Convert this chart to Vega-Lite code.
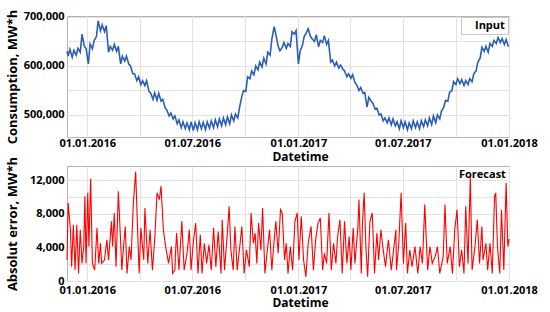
{
 "$schema": "https://vega.github.io/schema/vega-lite/v6.json",
 "padding": {"left": 5, "top": 8, "right": 0, "bottom": 0},
 "background": "white",
 "bounds": "flush",
 "spacing": 29,
 "config": {
  "font": "Open Sans",
  "view": {"stroke": "#b4b4b4", "strokeWidth": 1},
  "axis": {"labelFont": "Open Sans", "labelFontWeight": "bold", "labelFontSize": 11, "labelColor": "#000", "titleFont": "Open Sans", "titleFontWeight": "bold", "titleColor": "#000", "gridColor": "#e2e2e2", "domain": false, "ticks": false, "labelFlush": false, "labelOverlap": false},
  "legend": {"labelFont": "Open Sans", "labelFontWeight": "bold", "labelFontSize": 11, "labelColor": "#000"}
 },
 "datasets": {
  "input": [
   {"d":"2015-11-27","c":630000},{"d":"2015-11-29","c":620000},{"d":"2015-12-02","c":634000},{"d":"2015-12-06","c":618000},{"d":"2015-12-09","c":632000},{"d":"2015-12-13","c":622000},{"d":"2015-12-16","c":636000},{"d":"2015-12-20","c":628000},{"d":"2015-12-23","c":665000},{"d":"2015-12-27","c":640000},{"d":"2015-12-30","c":636000},{"d":"2016-01-03","c":604000},
   {"d":"2016-01-06","c":645000},{"d":"2016-01-10","c":635000},{"d":"2016-01-13","c":652000},{"d":"2016-01-17","c":660000},{"d":"2016-01-20","c":692000},{"d":"2016-01-24","c":672000},{"d":"2016-01-27","c":684000},{"d":"2016-01-31","c":670000},{"d":"2016-02-03","c":682000},{"d":"2016-02-07","c":628000},{"d":"2016-02-10","c":640000},{"d":"2016-02-14","c":632000},{"d":"2016-02-17","c":644000},{"d":"2016-02-21","c":630000},{"d":"2016-02-24","c":640000},{"d":"2016-02-28","c":604000},
   {"d":"2016-03-02","c":620000},{"d":"2016-03-06","c":610000},{"d":"2016-03-09","c":620000},{"d":"2016-03-13","c":604000},{"d":"2016-03-16","c":600000},{"d":"2016-03-20","c":584000},{"d":"2016-03-23","c":584000},{"d":"2016-03-27","c":570000},{"d":"2016-03-30","c":578000},{"d":"2016-04-03","c":562000},{"d":"2016-04-06","c":570000},{"d":"2016-04-10","c":560000},{"d":"2016-04-13","c":570000},{"d":"2016-04-17","c":548000},{"d":"2016-04-20","c":545000},{"d":"2016-04-24","c":532000},{"d":"2016-04-27","c":545000},
   {"d":"2016-05-01","c":530000},{"d":"2016-05-04","c":544000},{"d":"2016-05-08","c":528000},{"d":"2016-05-11","c":532000},{"d":"2016-05-15","c":515000},{"d":"2016-05-18","c":510000},{"d":"2016-05-22","c":498000},{"d":"2016-05-25","c":504000},{"d":"2016-05-29","c":492000},{"d":"2016-06-01","c":498000},{"d":"2016-06-05","c":482000},{"d":"2016-06-08","c":490000},{"d":"2016-06-12","c":474000},{"d":"2016-06-15","c":486000},{"d":"2016-06-19","c":472000},{"d":"2016-06-22","c":484000},{"d":"2016-06-26","c":470000},{"d":"2016-06-29","c":486000},
   {"d":"2016-07-03","c":468000},{"d":"2016-07-06","c":484000},{"d":"2016-07-10","c":470000},{"d":"2016-07-13","c":486000},{"d":"2016-07-17","c":472000},{"d":"2016-07-20","c":485000},{"d":"2016-07-24","c":470000},{"d":"2016-07-27","c":486000},{"d":"2016-07-31","c":473000},{"d":"2016-08-03","c":488000},{"d":"2016-08-07","c":474000},{"d":"2016-08-10","c":490000},{"d":"2016-08-14","c":476000},{"d":"2016-08-17","c":492000},{"d":"2016-08-21","c":478000},{"d":"2016-08-24","c":494000},{"d":"2016-08-28","c":480000},{"d":"2016-08-31","c":496000},
   {"d":"2016-09-04","c":482000},{"d":"2016-09-07","c":500000},{"d":"2016-09-11","c":488000},{"d":"2016-09-14","c":502000},{"d":"2016-09-18","c":494000},{"d":"2016-09-21","c":515000},{"d":"2016-09-25","c":538000},{"d":"2016-09-28","c":550000},{"d":"2016-10-02","c":548000},{"d":"2016-10-05","c":578000},{"d":"2016-10-09","c":574000},{"d":"2016-10-12","c":590000},{"d":"2016-10-16","c":582000},{"d":"2016-10-19","c":600000},{"d":"2016-10-23","c":592000},{"d":"2016-10-26","c":608000},{"d":"2016-10-30","c":598000},
   {"d":"2016-11-02","c":616000},{"d":"2016-11-06","c":604000},{"d":"2016-11-09","c":628000},{"d":"2016-11-13","c":622000},{"d":"2016-11-16","c":655000},{"d":"2016-11-20","c":680000},{"d":"2016-11-23","c":664000},{"d":"2016-11-27","c":640000},{"d":"2016-11-30","c":631000},{"d":"2016-12-04","c":638000},{"d":"2016-12-07","c":648000},{"d":"2016-12-11","c":636000},{"d":"2016-12-14","c":646000},{"d":"2016-12-18","c":640000},{"d":"2016-12-21","c":670000},{"d":"2016-12-25","c":665000},{"d":"2016-12-28","c":672000},{"d":"2017-01-01","c":604000},
   {"d":"2017-01-04","c":630000},{"d":"2017-01-08","c":642000},{"d":"2017-01-11","c":660000},{"d":"2017-01-15","c":668000},{"d":"2017-01-18","c":676000},{"d":"2017-01-22","c":660000},{"d":"2017-01-25","c":655000},{"d":"2017-01-29","c":650000},{"d":"2017-02-01","c":664000},{"d":"2017-02-05","c":639000},{"d":"2017-02-08","c":652000},{"d":"2017-02-12","c":648000},{"d":"2017-02-15","c":662000},{"d":"2017-02-19","c":644000},{"d":"2017-02-22","c":652000},{"d":"2017-02-26","c":608000},
   {"d":"2017-03-01","c":612000},{"d":"2017-03-05","c":600000},{"d":"2017-03-08","c":608000},{"d":"2017-03-12","c":596000},{"d":"2017-03-15","c":602000},{"d":"2017-03-19","c":594000},{"d":"2017-03-22","c":590000},{"d":"2017-03-26","c":578000},{"d":"2017-03-29","c":584000},{"d":"2017-04-02","c":575000},{"d":"2017-04-05","c":582000},{"d":"2017-04-09","c":566000},{"d":"2017-04-12","c":562000},{"d":"2017-04-16","c":550000},{"d":"2017-04-19","c":556000},{"d":"2017-04-23","c":544000},{"d":"2017-04-26","c":546000},{"d":"2017-04-30","c":516000},
   {"d":"2017-05-03","c":536000},{"d":"2017-05-07","c":528000},{"d":"2017-05-10","c":524000},{"d":"2017-05-14","c":512000},{"d":"2017-05-17","c":514000},{"d":"2017-05-21","c":500000},{"d":"2017-05-24","c":502000},{"d":"2017-05-28","c":488000},{"d":"2017-05-31","c":494000},{"d":"2017-06-04","c":484000},{"d":"2017-06-07","c":494000},{"d":"2017-06-11","c":480000},{"d":"2017-06-14","c":492000},{"d":"2017-06-18","c":478000},{"d":"2017-06-21","c":486000},{"d":"2017-06-25","c":472000},{"d":"2017-06-28","c":488000},
   {"d":"2017-07-02","c":474000},{"d":"2017-07-05","c":486000},{"d":"2017-07-09","c":470000},{"d":"2017-07-12","c":484000},{"d":"2017-07-16","c":472000},{"d":"2017-07-19","c":488000},{"d":"2017-07-23","c":474000},{"d":"2017-07-26","c":486000},{"d":"2017-07-30","c":472000},{"d":"2017-08-02","c":488000},{"d":"2017-08-06","c":476000},{"d":"2017-08-09","c":490000},{"d":"2017-08-13","c":478000},{"d":"2017-08-16","c":494000},{"d":"2017-08-20","c":480000},{"d":"2017-08-23","c":498000},{"d":"2017-08-27","c":484000},{"d":"2017-08-30","c":500000},
   {"d":"2017-09-03","c":492000},{"d":"2017-09-06","c":508000},{"d":"2017-09-10","c":516000},{"d":"2017-09-13","c":530000},{"d":"2017-09-17","c":528000},{"d":"2017-09-20","c":546000},{"d":"2017-09-24","c":550000},{"d":"2017-09-27","c":568000},{"d":"2017-10-01","c":562000},{"d":"2017-10-04","c":574000},{"d":"2017-10-08","c":564000},{"d":"2017-10-11","c":572000},{"d":"2017-10-15","c":560000},{"d":"2017-10-18","c":570000},{"d":"2017-10-22","c":562000},{"d":"2017-10-25","c":574000},{"d":"2017-10-29","c":568000},
   {"d":"2017-11-01","c":584000},{"d":"2017-11-05","c":590000},{"d":"2017-11-08","c":608000},{"d":"2017-11-12","c":616000},{"d":"2017-11-15","c":638000},{"d":"2017-11-19","c":630000},{"d":"2017-11-22","c":640000},{"d":"2017-11-26","c":628000},{"d":"2017-11-29","c":646000},{"d":"2017-12-03","c":640000},{"d":"2017-12-06","c":652000},{"d":"2017-12-10","c":646000},{"d":"2017-12-13","c":658000},{"d":"2017-12-17","c":648000},{"d":"2017-12-20","c":656000},{"d":"2017-12-24","c":644000},{"d":"2017-12-27","c":654000},{"d":"2017-12-31","c":639000}
  ],
  "forecast": [
   {"d":"2015-11-27","e":2500},{"d":"2015-11-29","e":9300},{"d":"2015-12-03","e":6100},{"d":"2015-12-05","e":1700},{"d":"2015-12-08","e":6700},{"d":"2015-12-11","e":1300},{"d":"2015-12-14","e":6700},{"d":"2015-12-17","e":900},{"d":"2015-12-20","e":6100},{"d":"2015-12-23","e":2100},{"d":"2015-12-26","e":4100},{"d":"2015-12-28","e":10100},{"d":"2015-12-30","e":2100},
   {"d":"2016-01-02","e":10500},{"d":"2016-01-04","e":4100},{"d":"2016-01-07","e":12200},{"d":"2016-01-10","e":2100},{"d":"2016-01-14","e":1300},{"d":"2016-01-18","e":6300},{"d":"2016-01-21","e":2100},{"d":"2016-01-24","e":4500},{"d":"2016-01-26","e":2100},{"d":"2016-01-31","e":2500},{"d":"2016-02-04","e":4900},{"d":"2016-02-07","e":2500},{"d":"2016-02-12","e":7100},{"d":"2016-02-14","e":4100},{"d":"2016-02-17","e":8100},{"d":"2016-02-20","e":1700},{"d":"2016-02-24","e":10700},{"d":"2016-02-27","e":6100},
   {"d":"2016-03-01","e":1300},{"d":"2016-03-04","e":4100},{"d":"2016-03-07","e":6500},{"d":"2016-03-10","e":900},{"d":"2016-03-14","e":4100},{"d":"2016-03-17","e":2500},{"d":"2016-03-21","e":9300},{"d":"2016-03-25","e":13000},{"d":"2016-03-29","e":4900},{"d":"2016-03-31","e":900},{"d":"2016-04-03","e":6300},{"d":"2016-04-08","e":2500},{"d":"2016-04-10","e":8700},{"d":"2016-04-15","e":2100},{"d":"2016-04-19","e":6100},{"d":"2016-04-23","e":1300},{"d":"2016-04-27","e":4900},
   {"d":"2016-05-01","e":10500},{"d":"2016-05-05","e":9700},{"d":"2016-05-08","e":11300},{"d":"2016-05-12","e":6100},{"d":"2016-05-16","e":4100},{"d":"2016-05-21","e":2100},{"d":"2016-05-26","e":4100},{"d":"2016-05-28","e":900},{"d":"2016-06-01","e":1300},{"d":"2016-06-02","e":3300},{"d":"2016-06-04","e":5700},{"d":"2016-06-08","e":1300},{"d":"2016-06-13","e":7100},{"d":"2016-06-17","e":1300},{"d":"2016-06-22","e":3300},{"d":"2016-06-26","e":6100},{"d":"2016-06-29","e":1300},
   {"d":"2016-07-03","e":4700},{"d":"2016-07-07","e":6900},{"d":"2016-07-11","e":900},{"d":"2016-07-15","e":5500},{"d":"2016-07-18","e":900},{"d":"2016-07-22","e":4500},{"d":"2016-07-26","e":2100},{"d":"2016-07-30","e":4300},{"d":"2016-08-03","e":1300},{"d":"2016-08-07","e":6300},{"d":"2016-08-11","e":1700},{"d":"2016-08-15","e":5900},{"d":"2016-08-20","e":900},{"d":"2016-08-22","e":7300},{"d":"2016-08-26","e":1300},{"d":"2016-08-30","e":4900},
   {"d":"2016-09-03","e":8900},{"d":"2016-09-06","e":3700},{"d":"2016-09-10","e":1300},{"d":"2016-09-13","e":6500},{"d":"2016-09-17","e":1300},{"d":"2016-09-22","e":4500},{"d":"2016-09-25","e":6500},{"d":"2016-09-29","e":900},{"d":"2016-10-03","e":3700},{"d":"2016-10-08","e":1700},{"d":"2016-10-11","e":8100},{"d":"2016-10-15","e":4500},{"d":"2016-10-18","e":5700},{"d":"2016-10-21","e":2100},{"d":"2016-10-24","e":6900},{"d":"2016-10-28","e":3700},{"d":"2016-10-31","e":8700},
   {"d":"2016-11-04","e":900},{"d":"2016-11-07","e":2900},{"d":"2016-11-12","e":6100},{"d":"2016-11-16","e":1300},{"d":"2016-11-20","e":4900},{"d":"2016-11-23","e":7100},{"d":"2016-11-27","e":3300},{"d":"2016-12-01","e":8500},{"d":"2016-12-04","e":8100},{"d":"2016-12-08","e":2500},{"d":"2016-12-11","e":4500},{"d":"2016-12-14","e":900},{"d":"2016-12-18","e":4100},{"d":"2016-12-22","e":1300},{"d":"2016-12-26","e":7100},{"d":"2016-12-30","e":8100},
   {"d":"2017-01-02","e":2500},{"d":"2017-01-06","e":7700},{"d":"2017-01-10","e":2500},{"d":"2017-01-14","e":500},{"d":"2017-01-18","e":4500},{"d":"2017-01-23","e":6500},{"d":"2017-01-27","e":1300},{"d":"2017-01-31","e":4900},{"d":"2017-02-04","e":6900},{"d":"2017-02-08","e":7500},{"d":"2017-02-12","e":1300},{"d":"2017-02-15","e":3300},{"d":"2017-02-19","e":2100},{"d":"2017-02-23","e":8100},{"d":"2017-02-27","e":1300},
   {"d":"2017-03-03","e":4500},{"d":"2017-03-07","e":2100},{"d":"2017-03-10","e":5300},{"d":"2017-03-14","e":7300},{"d":"2017-03-18","e":900},{"d":"2017-03-22","e":7100},{"d":"2017-03-26","e":2100},{"d":"2017-03-30","e":5300},{"d":"2017-04-02","e":1300},{"d":"2017-04-06","e":6300},{"d":"2017-04-09","e":2100},{"d":"2017-04-14","e":6300},{"d":"2017-04-16","e":9700},{"d":"2017-04-20","e":900},{"d":"2017-04-22","e":6900},{"d":"2017-04-25","e":10500},{"d":"2017-04-28","e":4100},
   {"d":"2017-05-01","e":500},{"d":"2017-05-05","e":7100},{"d":"2017-05-09","e":8100},{"d":"2017-05-13","e":900},{"d":"2017-05-17","e":5700},{"d":"2017-05-20","e":2500},{"d":"2017-05-24","e":6100},{"d":"2017-05-28","e":3700},{"d":"2017-06-01","e":1700},{"d":"2017-06-06","e":4900},{"d":"2017-06-11","e":1300},{"d":"2017-06-15","e":3700},{"d":"2017-06-19","e":6100},{"d":"2017-06-20","e":1300},{"d":"2017-06-24","e":4500},{"d":"2017-06-28","e":10500},
   {"d":"2017-07-02","e":2100},{"d":"2017-07-06","e":6900},{"d":"2017-07-09","e":900},{"d":"2017-07-13","e":3700},{"d":"2017-07-17","e":1700},{"d":"2017-07-22","e":4100},{"d":"2017-07-27","e":900},{"d":"2017-07-31","e":4100},{"d":"2017-08-04","e":2100},{"d":"2017-08-08","e":9100},{"d":"2017-08-13","e":1300},{"d":"2017-08-17","e":4100},{"d":"2017-08-21","e":2100},{"d":"2017-08-26","e":2900},{"d":"2017-08-30","e":4100},
   {"d":"2017-09-03","e":900},{"d":"2017-09-09","e":2900},{"d":"2017-09-12","e":9100},{"d":"2017-09-16","e":2100},{"d":"2017-09-21","e":4100},{"d":"2017-09-25","e":900},{"d":"2017-09-29","e":6100},{"d":"2017-10-03","e":8500},{"d":"2017-10-07","e":1700},{"d":"2017-10-11","e":3700},{"d":"2017-10-15","e":900},{"d":"2017-10-18","e":8900},{"d":"2017-10-22","e":2100},{"d":"2017-10-26","e":12400},{"d":"2017-10-29","e":1300},
   {"d":"2017-11-03","e":4100},{"d":"2017-11-07","e":7300},{"d":"2017-11-11","e":2100},{"d":"2017-11-15","e":6500},{"d":"2017-11-17","e":2500},{"d":"2017-11-22","e":4500},{"d":"2017-11-25","e":1300},{"d":"2017-11-29","e":4500},{"d":"2017-12-03","e":900},{"d":"2017-12-07","e":10100},{"d":"2017-12-09","e":10500},{"d":"2017-12-12","e":4100},{"d":"2017-12-16","e":900},{"d":"2017-12-19","e":8500},{"d":"2017-12-23","e":1300},{"d":"2017-12-27","e":11700},{"d":"2017-12-30","e":4100},{"d":"2018-01-01","e":5000}
  ]
 },
 "vconcat": [
  {
   "width": 442, "height": 121,
   "data": {"name": "input"},
   "mark": {"type": "line", "strokeWidth": 1.6},
   "encoding": {
    "x": {"field": "d", "type": "temporal",
     "scale": {"type": "utc", "domain": [{"year": 2015, "month": 11, "date": 27, "utc": true}, {"year": 2018, "month": 1, "date": 1, "utc": true}]},
     "axis": {"values": [{"year":2016,"month":1,"date":1,"utc":true},{"year":2016,"month":4,"date":1,"utc":true},{"year":2016,"month":7,"date":1,"utc":true},{"year":2016,"month":10,"date":1,"utc":true},{"year":2017,"month":1,"date":1,"utc":true},{"year":2017,"month":4,"date":1,"utc":true},{"year":2017,"month":7,"date":1,"utc":true},{"year":2017,"month":10,"date":1,"utc":true},{"year":2018,"month":1,"date":1,"utc":true}],
      "labelExpr": "utcmonth(datum.value) % 6 == 0 ? utcFormat(datum.value, '%d.%m.%Y') : ''",
      "title": "Datetime", "titleFontSize": 12, "titleX": 233, "labelPadding": 0, "titlePadding": 3}},
    "y": {"field": "c", "type": "quantitative",
     "scale": {"domain": [455000, 702000], "nice": false, "zero": false},
     "axis": {"values": [500000, 550000, 600000, 650000, 700000],
      "labelExpr": "datum.value % 100000 == 0 ? format(datum.value, ',') : ''",
      "title": "Consumption, MW*h", "titleFontSize": 13, "titleX": -48, "labelPadding": 3}},
    "color": {"datum": "Input", "scale": {"range": ["#2c5fb3"]},
     "legend": {"orient": "top-right", "title": null, "symbolType": "circle", "symbolOpacity": 0, "symbolSize": 0, "symbolStrokeWidth": 0, "labelOffset": 0, "strokeColor": "#c8c8c8", "fillColor": "white", "padding": 3, "offset": 1}}
   }
  },
  {
   "width": 442, "height": 115,
   "data": {"name": "forecast"},
   "mark": {"type": "line", "strokeWidth": 1.1},
   "encoding": {
    "x": {"field": "d", "type": "temporal",
     "scale": {"type": "utc", "domain": [{"year": 2015, "month": 11, "date": 27, "utc": true}, {"year": 2018, "month": 1, "date": 1, "utc": true}]},
     "axis": {"values": [{"year":2016,"month":1,"date":1,"utc":true},{"year":2016,"month":4,"date":1,"utc":true},{"year":2016,"month":7,"date":1,"utc":true},{"year":2016,"month":10,"date":1,"utc":true},{"year":2017,"month":1,"date":1,"utc":true},{"year":2017,"month":4,"date":1,"utc":true},{"year":2017,"month":7,"date":1,"utc":true},{"year":2017,"month":10,"date":1,"utc":true},{"year":2018,"month":1,"date":1,"utc":true}],
      "labelExpr": "utcmonth(datum.value) % 6 == 0 ? utcFormat(datum.value, '%d.%m.%Y') : ''",
      "title": "Datetime", "titleFontSize": 12, "titleX": 233, "labelPadding": 3, "titlePadding": 2}},
    "y": {"field": "e", "type": "quantitative",
     "scale": {"domain": [0, 13700], "nice": false},
     "axis": {"values": [0, 2000, 4000, 6000, 8000, 10000, 12000],
      "labelExpr": "datum.value % 4000 == 0 ? format(datum.value, ',') : ''",
      "title": "Absolut error, MW*h", "titleFontSize": 13, "titleX": -48, "labelPadding": 3}},
    "color": {"datum": "Forecast", "scale": {"range": ["#ff0000"]},
     "legend": {"orient": "top-right", "title": null, "symbolType": "circle", "symbolOpacity": 0, "symbolSize": 0, "symbolStrokeWidth": 0, "labelOffset": 0, "padding": 1, "offset": 2}}
   }
  }
 ],
 "resolve": {"scale": {"color": "independent"}, "legend": {"color": "independent"}}
}
